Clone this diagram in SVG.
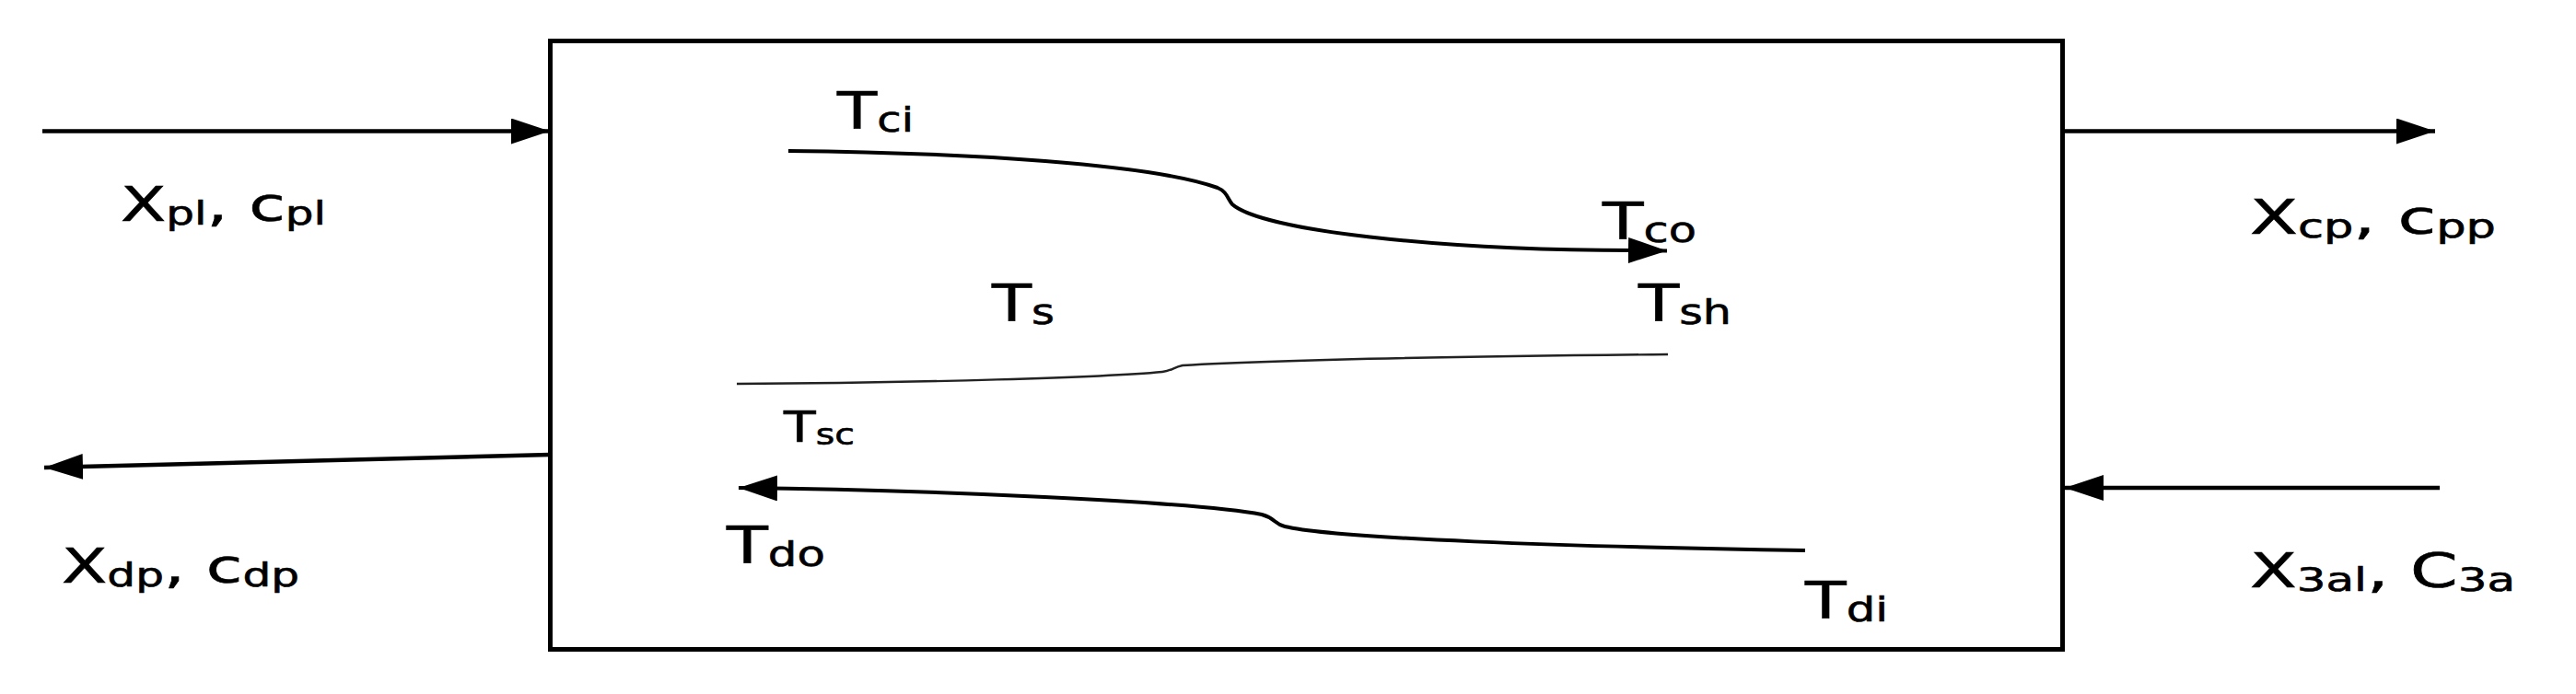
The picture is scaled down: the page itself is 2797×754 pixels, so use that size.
<svg xmlns="http://www.w3.org/2000/svg" width="2797" height="754" viewBox="0 0 2797 754">
<style>
.lbl{font-family:"DejaVu Sans","Liberation Sans",sans-serif;fill:#000;stroke:#000;stroke-width:0.6}
.big{font-size:52px}
.sub{font-size:35px}
.tb{font-size:56px}
.ts{font-size:38px}
.flow{fill:none;stroke:#000;stroke-width:4.5}
.curve{fill:none;stroke:#000;stroke-width:4}
.thin{fill:none;stroke:#222;stroke-width:2.4}
</style>
<defs>
<marker id="ah" markerUnits="userSpaceOnUse" markerWidth="44" markerHeight="30" refX="42" refY="14" orient="auto">
<path d="M0,0 L42,14 L0,28 Z" fill="#000"/>
</marker>
</defs>
<g id="box">
<rect x="597.5" y="44.5" width="1642" height="661" fill="#fff" stroke="#000" stroke-width="5"/>
</g>
<g id="connectors">
<line class="flow" x1="46" y1="142.5" x2="597" y2="142.5" marker-end="url(#ah)"/>
<line class="flow" x1="2241" y1="142.5" x2="2644" y2="142.5" marker-end="url(#ah)"/>
<line class="flow" x1="597" y1="494" x2="48" y2="508" marker-end="url(#ah)"/>
<line class="flow" x1="2649" y1="530" x2="2242" y2="530" marker-end="url(#ah)"/>
<path id="curve-c" class="curve" d="M856,164 C1050,166 1250,178 1322,204 C1332,208 1333,216 1338,222 C1370,250 1560,272 1772,272 L1810,272.5" marker-end="url(#ah)"/>
<path id="curve-s" class="thin" d="M800,417 C1000,416 1200,410 1262,404 C1272,403 1274,399 1284,397 C1400,390 1600,387 1811,385"/>
<path id="curve-d" class="curve" d="M1960,598 C1700,594 1450,585 1395,572 C1383,569 1385,563 1370,559 C1300,545 1000,532 802,530" marker-end="url(#ah)"/>
</g>
<g id="label-xpl"><text class="lbl big" x="131" y="240" textLength="223" lengthAdjust="spacingAndGlyphs">X<tspan class="sub" dy="4">pl</tspan><tspan dy="-4">, c</tspan><tspan class="sub" dy="4">pl</tspan></text></g>
<g id="label-xdp"><text class="lbl big" x="67" y="633" textLength="258" lengthAdjust="spacingAndGlyphs">X<tspan class="sub" dy="4">dp</tspan><tspan dy="-4">, c</tspan><tspan class="sub" dy="4">dp</tspan></text></g>
<g id="label-xcp"><text class="lbl big" x="2443" y="254" textLength="267" lengthAdjust="spacingAndGlyphs">X<tspan class="sub" dy="4">cp</tspan><tspan dy="-4">, c</tspan><tspan class="sub" dy="4">pp</tspan></text></g>
<g id="label-x3al"><text class="lbl big" x="2443" y="638" textLength="288" lengthAdjust="spacingAndGlyphs">X<tspan class="sub" dy="4">3al</tspan><tspan dy="-4">, C</tspan><tspan class="sub" dy="4">3a</tspan></text></g>
<g id="label-tci"><text class="lbl tb" x="909" y="139" textLength="83" lengthAdjust="spacingAndGlyphs">T<tspan class="ts" dy="4">ci</tspan></text></g>
<g id="label-tco"><text class="lbl tb" x="1740" y="259" textLength="102" lengthAdjust="spacingAndGlyphs">T<tspan class="ts" dy="4">co</tspan></text></g>
<g id="label-ts"><text class="lbl tb" x="1077" y="348" textLength="68" lengthAdjust="spacingAndGlyphs">T<tspan class="ts" dy="4">s</tspan></text></g>
<g id="label-tsh"><text class="lbl tb" x="1779" y="348" textLength="101" lengthAdjust="spacingAndGlyphs">T<tspan class="ts" dy="4">sh</tspan></text></g>
<g id="label-tsc"><text class="lbl" style="font-size:46px" x="851" y="480" textLength="77" lengthAdjust="spacingAndGlyphs">T<tspan style="font-size:32px" dy="3">sc</tspan></text></g>
<g id="label-tdo"><text class="lbl tb" x="789" y="611" textLength="107" lengthAdjust="spacingAndGlyphs">T<tspan class="ts" dy="4">do</tspan></text></g>
<g id="label-tdi"><text class="lbl tb" x="1960" y="671" textLength="90" lengthAdjust="spacingAndGlyphs">T<tspan class="ts" dy="4">di</tspan></text></g>
</svg>
